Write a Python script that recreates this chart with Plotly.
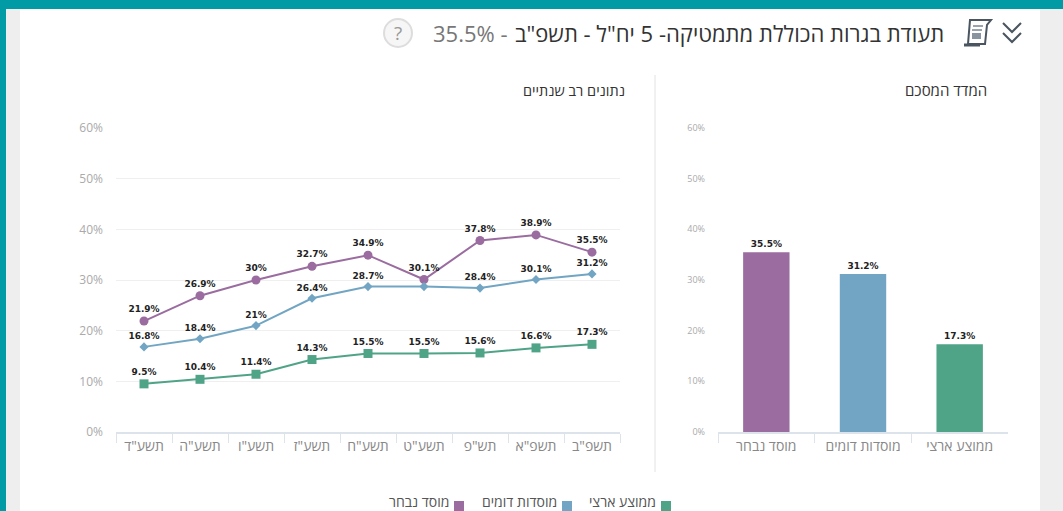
import plotly.graph_objects as go

years = ['תשע"ד', 'תשע"ה', 'תשע"ו', 'תשע"ז', 'תשע"ח', 'תשע"ט', 'תש"פ', 'תשפ"א', 'תשפ"ב']
selected = [21.9, 26.9, 30, 32.7, 34.9, 30.1, 37.8, 38.9, 35.5]
similar = [16.8, 18.4, 21, 26.4, 28.7, 28.7, 28.4, 30.1, 31.2]
similar_labels = [16.8, 18.4, 21, 26.4, 28.7, None, 28.4, 30.1, 31.2]
national = [9.5, 10.4, 11.4, 14.3, 15.5, 15.5, 15.6, 16.6, 17.3]
bar_categories = ['מוסד נבחר', 'מוסדות דומים', 'ממוצע ארצי']
bar_values = [35.5, 31.2, 17.3]
y_ticks = [0, 10, 20, 30, 40, 50, 60]
y_tick_labels = ['0%', '10%', '20%', '30%', '40%', '50%', '60%']

PURPLE, BLUE, GREEN = '#9A6C9F', '#71A5C3', '#4FA387'
ICON = '#4A5560'
W, H = 1063, 511
FONT = '"Open Sans", "Liberation Sans", "DejaVu Sans", sans-serif'


def px(x):
    return x / W


def py(y):
    return 1 - y / H


def lab(values):
    return ['' if v is None else f'{v:g}%' for v in values]


def paper_path(points, close=False, **kw):
    d = 'M ' + ' L '.join(f'{px(x)} {py(y)}' for x, y in points) + (' Z' if close else '')
    return dict(type='path', xref='paper', yref='paper', path=d, **kw)


fig = go.Figure()
series = [
    ('מוסד נבחר', selected, selected, PURPLE, 'circle', 9),
    ('מוסדות דומים', similar, similar_labels, BLUE, 'diamond', 7),
    ('ממוצע ארצי', national, national, GREEN, 'square', 9),
]
for name, vals, labels, color, symbol, size in series:
    fig.add_trace(go.Scatter(
        x=years, y=vals, name=name, mode='lines+markers+text', text=lab(labels),
        textposition='top center',
        textfont=dict(size=9, color='#222222', family='"DejaVu Sans", sans-serif', weight='bold'),
        line=dict(color=color, width=2), marker=dict(color=color, symbol=symbol, size=size),
        cliponaxis=False, showlegend=False, xaxis='x', yaxis='y'))

fig.add_trace(go.Bar(
    x=bar_categories, y=bar_values, marker=dict(color=[PURPLE, BLUE, GREEN], line_width=0),
    text=lab(bar_values), textposition='outside',
    textfont=dict(size=9, color='#222222', family='"DejaVu Sans", sans-serif', weight='bold'),
    cliponaxis=False, showlegend=False, xaxis='x2', yaxis='y2'))

shapes = [
    dict(type='rect', xref='paper', yref='paper', x0=0, x1=1, y0=0, y1=1, fillcolor='#EEEEEE', line_width=0, layer='below'),
    dict(type='rect', xref='paper', yref='paper', x0=px(20), x1=px(1040), y0=0, y1=1, fillcolor='#FFFFFF', line_width=0, layer='below'),
    dict(type='rect', xref='paper', yref='paper', x0=0, x1=px(6), y0=0, y1=1, fillcolor='#009BA4', line_width=0, layer='below'),
    dict(type='rect', xref='paper', yref='paper', x0=0, x1=1, y0=py(9), y1=1, fillcolor='#009BA4', line_width=0, layer='below'),
    dict(type='line', xref='paper', yref='paper', x0=px(655), x1=px(655), y0=py(75), y1=py(472), line=dict(color='#E2E2E2', width=1)),
    # help circle
    dict(type='circle', xref='paper', yref='paper', x0=px(384), x1=px(412), y0=py(47), y1=py(19), fillcolor='#F6F6F6', line=dict(color='#DDDDDD', width=2)),
    # scroll icon
    paper_path([(970, 20), (991, 20), (987, 25), (985, 44), (968, 44)], close=True, fillcolor='#FFFFFF', line=dict(color=ICON, width=2)),
    paper_path([(964, 45), (980, 45)], line=dict(color=ICON, width=3)),
    paper_path([(973, 26), (983, 26)], line=dict(color='#7A8590', width=1.5)),
    paper_path([(972, 30), (982, 30)], line=dict(color='#7A8590', width=1.5)),
    dict(type='rect', xref='paper', yref='paper', x0=px(972), x1=px(981), y0=py(39), y1=py(33), fillcolor='#8A949E', line_width=0),
]
# chevrons
for top in (23, 33):
    shapes.append(paper_path([(1003, top), (1012, top + 9), (1021, top)], line=dict(color=ICON, width=2)))

annotations = [
    dict(text='תעודת בגרות הכוללת מתמטיקה- 5 יח"ל - תשפ"ב', x=px(946), y=py(33), xanchor='right', yanchor='middle',
         font=dict(size=22, color='#333333')),
    dict(text='35.5% -', x=px(431), y=py(33), xanchor='left', yanchor='middle', font=dict(size=22, color='#777777')),
    dict(text='?', x=px(398), y=py(33), xanchor='center', yanchor='middle', font=dict(size=19, color='#999999')),
    dict(text='נתונים רב שנתיים', x=px(627), y=py(90), xanchor='right', yanchor='middle', font=dict(size=14.5, color='#333333')),
    dict(text='המדד המסכם', x=px(989), y=py(90), xanchor='right', yanchor='middle', font=dict(size=15, color='#333333')),
]
# legend: swatch to the right of the text, as in the original
legend_items = [('מוסד נבחר', PURPLE, 459), ('מוסדות דומים', BLUE, 567), ('ממוצע ארצי', GREEN, 666)]
for name, color, cx in legend_items:
    shapes.append(dict(type='rect', xref='paper', yref='paper', x0=px(cx - 5), x1=px(cx + 5), y0=py(511), y1=py(501),
                       fillcolor=color, line_width=0))
    annotations.append(dict(text=name, x=px(cx - 8), y=py(501), xanchor='right', yanchor='middle',
                            font=dict(size=14, color='#555555')))
for a in annotations:
    a.update(xref='paper', yref='paper', showarrow=False)

domain_y = [py(432), py(128)]
x_style = dict(type='category', showgrid=False, showline=True, linecolor='#DDE3EA', linewidth=1.5, ticks='outside',
               tickson='boundaries', ticklen=9, tickcolor='#DDE3EA', zeroline=False)
fig.update_layout(
    width=W, height=H, margin=dict(l=0, r=0, t=0, b=0, autoexpand=False), autosize=False,
    paper_bgcolor='#FFFFFF', plot_bgcolor='rgba(0,0,0,0)', font=dict(family=FONT),
    bargap=0.52, shapes=shapes, annotations=annotations,
    xaxis=dict(domain=[px(116), px(620)], range=[-0.5, 8.5], anchor='y',
               tickfont=dict(size=14, color='#888888'), **x_style),
    xaxis2=dict(domain=[px(718), px(1008)], range=[-0.5, 2.5], anchor='y2',
                tickfont=dict(size=14, color='#888888'), **x_style),
    yaxis=dict(domain=domain_y, range=[0, 60], anchor='x', tickmode='array', tickvals=y_ticks, ticktext=y_tick_labels,
               showgrid=True, gridcolor='#EFEFEF', zeroline=False, showline=False, ticks='',
               ticklabelstandoff=12, tickfont=dict(size=12, color='#AAAAAA')),
    yaxis2=dict(domain=domain_y, range=[0, 60], anchor='x2', tickmode='array', tickvals=y_ticks, ticktext=y_tick_labels,
                showgrid=False, zeroline=False, showline=False, ticks='',
                ticklabelstandoff=12, tickfont=dict(size=9, color='#AAAAAA')),
)
fig.write_html('out.html', config={'displayModeBar': False},
               post_script="document.body.style.margin='0';document.body.style.overflow='hidden';")
